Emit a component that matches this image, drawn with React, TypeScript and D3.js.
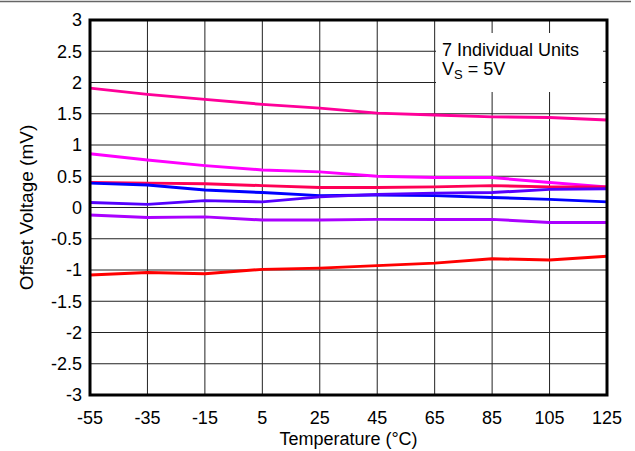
import React from "react";
import * as d3 from "d3";

const temps = [-55, -35, -15, 5, 25, 45, 65, 85, 105, 125];
const unit1 = [1.91, 1.81, 1.73, 1.65, 1.59, 1.51, 1.48, 1.45, 1.44, 1.4];
const unit2 = [0.86, 0.76, 0.67, 0.6, 0.57, 0.5, 0.48, 0.48, 0.4, 0.33];
const unit3 = [0.4, 0.39, 0.38, 0.35, 0.32, 0.32, 0.33, 0.35, 0.33, 0.33];
const unit4 = [0.39, 0.36, 0.28, 0.24, 0.19, 0.2, 0.19, 0.16, 0.13, 0.09];
const unit5 = [0.08, 0.05, 0.11, 0.09, 0.17, 0.21, 0.23, 0.24, 0.29, 0.3];
const unit6 = [-0.12, -0.16, -0.15, -0.2, -0.2, -0.19, -0.19, -0.19, -0.24, -0.24];
const unit7 = [-1.08, -1.04, -1.06, -0.99, -0.97, -0.93, -0.89, -0.82, -0.84, -0.78];

const seriesList = [unit1, unit2, unit3, unit4, unit5, unit6, unit7];
const colors = ["#FF0099", "#FF00FF", "#FF0055", "#0000FF", "#5500FF", "#AA00FF", "#FF0000"];

const xTicks = [-55, -35, -15, 5, 25, 45, 65, 85, 105, 125];
const yTicks = [-3, -2.5, -2, -1.5, -1, -0.5, 0, 0.5, 1, 1.5, 2, 2.5, 3];

const W = 635;
const H = 451;
const L = 90, R = 607, T = 20, B = 395;
const FONT = "'Liberation Sans', Arial, sans-serif";

export default function App() {
  const x = d3.scaleLinear().domain([-55, 125]).range([L, R]);
  const y = d3.scaleLinear().domain([-3, 3]).range([B, T]);
  const line = d3
    .line<number>()
    .x((_, i) => x(temps[i]))
    .y((d) => y(d));

  return (
    <svg
      width={W}
      height={H}
      style={{ position: "absolute", left: 0, top: 0, background: "#fff" }}
      fontFamily={FONT}
    >
      <rect x={0} y={0} width={W} height={H} fill="#fff" />
      <line x1={0} x2={631} y1={1.5} y2={1.5} stroke="#666" strokeWidth={1.5} />
      {/* grid */}
      {xTicks.map((t) => (
        <line key={"gx" + t} x1={x(t)} x2={x(t)} y1={T} y2={B} stroke="#222" strokeWidth={1} />
      ))}
      {yTicks.map((t) => (
        <line key={"gy" + t} x1={L} x2={R} y1={y(t)} y2={y(t)} stroke="#222" strokeWidth={1} />
      ))}
      {/* legend box */}
      <rect x={436} y={33} width={167} height={59} fill="#fff" />
      <text x={442} y={56} fontSize={18} fill="#000">7 Individual Units</text>
      <text x={442} y={75} fontSize={18} fill="#000">
        V<tspan fontSize={13} dy={4}>S</tspan>
        <tspan dy={-4}> = 5V</tspan>
      </text>
      {/* series */}
      {seriesList.map((s, i) => (
        <path key={i} d={line(s) || ""} fill="none" stroke={colors[i]} strokeWidth={3} strokeLinejoin="round" />
      ))}
      {/* frame */}
      <rect x={L} y={T} width={R - L} height={B - T} fill="none" stroke="#000" strokeWidth={3} />
      {/* tick labels */}
      {yTicks.map((t) => (
        <text key={"yl" + t} x={82} y={y(t) + 6.3} textAnchor="end" fontSize={18} fill="#000">
          {String(t)}
        </text>
      ))}
      {xTicks.map((t) => (
        <text key={"xl" + t} x={x(t)} y={423.5} textAnchor="middle" fontSize={18} fill="#000">
          {String(t)}
        </text>
      ))}
      <text x={(L + R) / 2} y={445} textAnchor="middle" fontSize={18} fill="#000">
        Temperature (°C)
      </text>
      <text
        transform={`translate(33, ${(T + B) / 2}) rotate(-90)`}
        textAnchor="middle"
        fontSize={19}
        fill="#000"
      >
        Offset Voltage (mV)
      </text>
    </svg>
  );
}
